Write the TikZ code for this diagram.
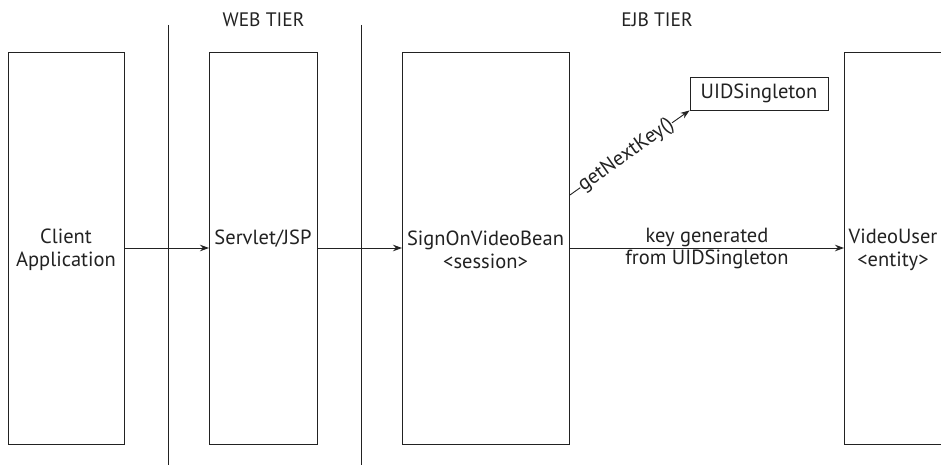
\documentclass[tikz,border=0pt]{standalone}
\usepackage{fontspec}
\setmainfont{PT Sans}
\usetikzlibrary{arrows.meta}
\definecolor{ink}{HTML}{222222}
\tikzset{
  box/.style={draw=ink, line width=0.9pt, minimum width=#1, minimum height=392pt, inner sep=0pt, anchor=north west},
  lbl/.style={font=\fontsize{20.5}{23}\selectfont, align=center, inner sep=1pt, text=ink},
  tier/.style={font=\fontsize{19.5}{22}\selectfont, inner sep=0pt, text=ink},
  arr/.style={draw=ink, line width=0.9pt, -{Stealth[length=9pt,width=6.5pt]}},
  sep/.style={draw=ink, line width=0.9pt}
}
\begin{document}
\begin{tikzpicture}[x=1pt,y=-1pt]
\clip (0,0) rectangle (941,465);
\fill[white] (0,0) rectangle (941,465);
% tier separators
\coordinate (s1t) at (168,25); \coordinate (s1b) at (168,466);
\coordinate (s2t) at (361,25); \coordinate (s2b) at (361,466);
\draw[sep] (s1t) -- (s1b);
\draw[sep] (s2t) -- (s2b);
\node[tier] (web) at (263.5,20) {WEB TIER};
\node[tier] (ejb) at (657,20) {EJB TIER};
% boxes
\node[box=116pt] (client) at (8,52) {};
\node[box=108pt] (servlet) at (209,52) {};
\node[box=167pt] (session) at (402,52) {};
\node[box=100pt] (entity) at (844,52) {};
\node[draw=ink, line width=0.9pt, minimum width=138pt, minimum height=33pt, inner sep=0pt, font=\fontsize{20.5}{23}\selectfont, text=ink] (uid) at (759,93.5) {UIDSingleton};
% labels
\node[lbl] (clientt) at (66,250) {Client\\Application};
\node[lbl] (servlett) at (263,239) {Servlet/JSP};
\node[lbl] (sessiont) at (485.5,250) {SignOnVideoBean\\<session>};
\node[lbl] (entityt) at (893,250) {VideoUser\\<entity>};
% arrows
\draw[arr] (client.east |- 0,248) -- (servlet.west |- 0,248);
\draw[arr] (servlet.east |- 0,248) -- (session.west |- 0,248);
\draw[arr] (session.east |- 0,248) -- node[lbl, above=0pt] (k1) {key generated} node[lbl, below=0pt] (k2) {from UIDSingleton} (entity.west |- 0,248);
\coordinate (g0) at (session.east |- 0,195);
\draw[arr] (g0) -- node[lbl, sloped, fill=white, inner sep=0pt, pos=0.47] (gk) {getNextKey()} (uid.south west);
\end{tikzpicture}
\end{document}
